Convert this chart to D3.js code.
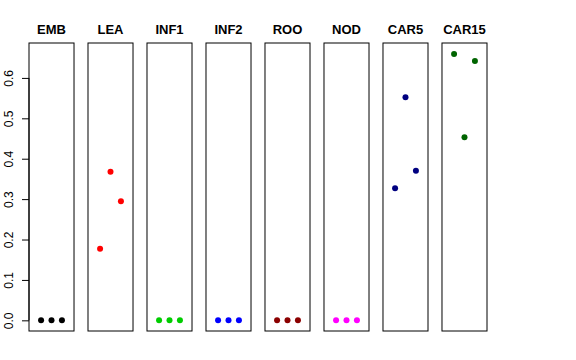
<!DOCTYPE html>
<html lang="en">
<head>
    <meta charset="UTF-8">
    <title>Panels</title>
    <script src="https://d3js.org/d3.v7.min.js"></script>
    <style>
        body { margin: 0; background: white; }
        text { font-family: "Liberation Sans", Arial, sans-serif; }
        .title { font-size: 13px; font-weight: bold; }
        .axis-y text { font-size: 12px; }
    </style>
</head>
<body>
    <svg width="576" height="360"></svg>

    <script>
        // Data
        const categories = ["EMB", "LEA", "INF1", "INF2", "ROO", "NOD", "CAR5", "CAR15"];
        const colors = ["#000000", "#FF0000", "#00CD00", "#0000FF", "#8B0000", "#FF00FF", "#000080", "#006400"];
        const emb = [0, 0, 0];
        const lea = [0.177, 0.368, 0.295];
        const inf1 = [0, 0, 0];
        const inf2 = [0, 0, 0];
        const roo = [0, 0, 0];
        const nod = [0, 0, 0];
        const car5 = [0.327, 0.552, 0.370];
        const car15 = [0.659, 0.453, 0.642];
        const series = [emb, lea, inf1, inf2, roo, nod, car5, car15];
        const yTicks = [0, 0.1, 0.2, 0.3, 0.4, 0.5, 0.6];

        const svg = d3.select("svg");

        // panels side by side
        const panel = d3.scaleBand().domain(categories).range([29, 487]).paddingInner(0.237);
        const y = d3.scaleLinear().domain([-0.0264, 0.6864]).range([331, 43]);
        const x = d3.scaleLinear().domain([-0.16, 4.16]).range([0, panel.bandwidth()]);

        categories.forEach((c, i) => {
            const g = svg.append("g").attr("transform", "translate(" + panel(c) + ",0)");

            g.append("rect")
                .attr("x", 0)
                .attr("y", y.range()[1])
                .attr("width", panel.bandwidth())
                .attr("height", y.range()[0] - y.range()[1])
                .style("fill", "none")
                .style("stroke", "black");

            g.selectAll("circle")
                .data(series[i])
                .enter().append("circle")
                .attr("cx", (d, j) => x(j + 1))
                .attr("cy", d => y(d))
                .attr("r", 3)
                .style("fill", colors[i]);

            g.append("text")
                .attr("class", "title")
                .attr("x", panel.bandwidth() / 2)
                .attr("y", 34)
                .attr("text-anchor", "middle")
                .text(c);

            if (i === 0) {
                const ax = g.append("g")
                    .attr("class", "axis-y")
                    .call(d3.axisLeft(y).tickValues(yTicks).tickFormat(d3.format(".1f")).tickSizeOuter(0).tickSize(7));
                ax.select(".domain").attr("d", "M0," + y(0) + "V" + y(0.6));
                ax.selectAll(".tick text")
                    .attr("transform", "rotate(-90)")
                    .attr("x", 0)
                    .attr("y", -16)
                    .attr("dy", "0")
                    .style("text-anchor", "middle");
            }
        });
    </script>
</body>
</html>
